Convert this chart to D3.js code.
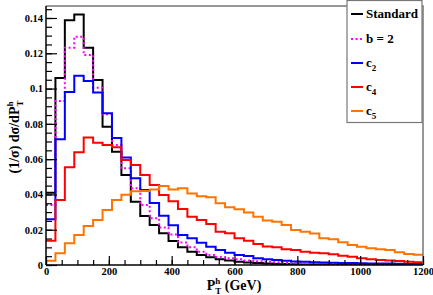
<!DOCTYPE html>
<html>
<head>
<meta charset="utf-8">
<script src="https://cdn.jsdelivr.net/npm/d3@7"></script>
<style>
  body { margin: 0; background: #fff; }
  svg text { font-family: "Liberation Serif", "Times New Roman", serif; font-weight: bold; fill: #000; }
</style>
</head>
<body>
<script>
// bin contents, 30 GeV bins from 0 to 1200 GeV
var binWidth = 30;
var standard = [0.041, 0.106, 0.1387, 0.142, 0.1232, 0.1049, 0.0784, 0.0642, 0.051, 0.0359,
  0.0278, 0.0227, 0.018, 0.0136, 0.010, 0.0075, 0.0057, 0.0044, 0.0032, 0.0025,
  0.0019, 0.0014, 0.0011, 0.0008, 0.0006, 0.0005, 0.0004, 0.0003, 0.0003, 0.0003,
  0.0002, 0.0002, 0.0002, 0.0001, 0.0001, 0.0001, 0.0001, 0.0001, 0.0001, 0.0001];
var b2 = [0.034, 0.093, 0.1232, 0.1294, 0.119, 0.1005, 0.0854, 0.068, 0.0548, 0.0435,
  0.034, 0.0265, 0.0212, 0.0173, 0.0128, 0.010, 0.0075, 0.0057, 0.0045, 0.0038,
  0.0032, 0.0026, 0.0021, 0.0018, 0.0015, 0.0012, 0.001, 0.0009, 0.0008, 0.0007,
  0.0006, 0.0006, 0.0005, 0.0005, 0.0004, 0.0004, 0.0003, 0.0003, 0.0003, 0.0002];
var c2 = [0.026, 0.0713, 0.098, 0.1072, 0.1043, 0.0978, 0.086, 0.072, 0.061, 0.0492,
  0.0425, 0.0352, 0.0279, 0.0225, 0.017, 0.0151, 0.0126, 0.0104, 0.0085, 0.007,
  0.0057, 0.0051, 0.0038, 0.0032, 0.0028, 0.0024, 0.002, 0.0018, 0.0016, 0.0014,
  0.0013, 0.0012, 0.0011, 0.001, 0.0009, 0.0008, 0.0008, 0.0007, 0.0006, 0.0006];
var c4 = [0.0138, 0.0368, 0.0554, 0.0639, 0.0722, 0.0693, 0.068, 0.0667, 0.0595, 0.0567,
  0.051, 0.0454, 0.0397, 0.0362, 0.0318, 0.0274, 0.0255, 0.0232, 0.0189, 0.018,
  0.0151, 0.0138, 0.0119, 0.0105, 0.010, 0.0089, 0.0085, 0.0075, 0.007, 0.0066,
  0.0061, 0.0052, 0.0047, 0.0038, 0.0032, 0.0028, 0.0025, 0.0022, 0.0019, 0.0015];
var c5 = [0.0024, 0.0066, 0.0123, 0.017, 0.0221, 0.0255, 0.0312, 0.0368, 0.0398, 0.0418,
  0.042, 0.0428, 0.0448, 0.0428, 0.0435, 0.0405, 0.039, 0.0384, 0.035, 0.0327,
  0.0316, 0.0297, 0.0274, 0.0252, 0.0245, 0.0227, 0.0198, 0.0188, 0.0178, 0.0151,
  0.0146, 0.0129, 0.0113, 0.0104, 0.0095, 0.0089, 0.0085, 0.0072, 0.0062, 0.0058];

var yMajor = [0, 0.02, 0.04, 0.06, 0.08, 0.1, 0.12, 0.14];
var xMajor = [0, 200, 400, 600, 800, 1000, 1200];

var series = [
  {label: "Standard", sub: null, values: standard, color: "#000000", dash: null},
  {label: "b = 2", sub: null, values: b2, color: "#ff00ff", dash: "2,2.5"},
  {label: "c", sub: "2", values: c2, color: "#0000ff", dash: null},
  {label: "c", sub: "4", values: c4, color: "#ff0000", dash: null},
  {label: "c", sub: "5", values: c5, color: "#ff7400", dash: null}
];

var W = 433, H = 295;
var plot = {left: 46, right: 423, top: 6, bottom: 265};

var svg = d3.select("body").append("svg")
    .attr("width", W)
    .attr("height", H);

var x = d3.scaleLinear().domain([0, 1200]).range([plot.left, plot.right]);
var y = d3.scaleLinear().domain([0, 0.1468]).range([plot.bottom, plot.top]);

svg.append("clipPath").attr("id", "clip")
  .append("rect")
    .attr("x", plot.left).attr("y", plot.top)
    .attr("width", plot.right - plot.left)
    .attr("height", plot.bottom - plot.top);

// histograms as steps
var line = d3.line()
    .x(function(d) { return x(d[0]); })
    .y(function(d) { return y(d[1]); })
    .curve(d3.curveStepAfter);

series.forEach(function(s) {
  var pts = s.values.map(function(v, i) { return [i * binWidth, v]; });
  pts.push([s.values.length * binWidth, s.values[s.values.length - 1]]);
  svg.append("path")
      .datum(pts)
      .attr("clip-path", "url(#clip)")
      .attr("fill", "none")
      .attr("stroke", s.color)
      .attr("stroke-width", 2)
      .attr("stroke-dasharray", s.dash)
      .attr("d", line);
});

// frame (top/right)
svg.append("path")
    .attr("d", "M" + plot.left + "," + plot.top + "H" + plot.right + "V" + plot.bottom)
    .attr("fill", "none")
    .attr("stroke", "#777")
    .attr("stroke-width", 1.5);

// y axis
var fmtY = function(d) { return String(+d.toFixed(2)); };
svg.append("g")
    .attr("transform", "translate(" + plot.left + ",0)")
    .call(d3.axisLeft(y).tickValues(d3.range(0, 0.1451, 0.005)).tickSize(-6).tickFormat(""))
    .call(function(g) { g.select(".domain").remove(); });
var yAx = svg.append("g")
    .attr("transform", "translate(" + plot.left + ",0)")
    .call(d3.axisLeft(y).tickValues(yMajor).tickSize(-11).tickPadding(3).tickFormat(fmtY));
yAx.select(".domain").attr("d", "M0," + plot.top + "V" + plot.bottom).attr("stroke-width", 1.5);
yAx.selectAll("text").style("font-size", "10.5px");

// x axis
svg.append("g")
    .attr("transform", "translate(0," + plot.bottom + ")")
    .call(d3.axisBottom(x).tickValues(d3.range(0, 1201, 50)).tickSize(-5).tickFormat(""))
    .call(function(g) { g.select(".domain").remove(); });
var xAx = svg.append("g")
    .attr("transform", "translate(0," + plot.bottom + ")")
    .call(d3.axisBottom(x).tickValues(xMajor).tickSize(-9).tickPadding(3).tickFormat(d3.format("d")));
xAx.select(".domain").attr("d", "M" + plot.left + ",0H" + plot.right).attr("stroke-width", 1.5);
xAx.selectAll("text").style("font-size", "10.5px");
svg.selectAll(".tick line").attr("stroke-width", 1.2);

// axis titles
var xt = svg.append("text")
    .attr("x", 234).attr("y", 290)
    .attr("text-anchor", "middle")
    .style("font-size", "14px");
xt.append("tspan").text("P");
xt.append("tspan").attr("dy", -6).style("font-size", "9px").text("h");
xt.append("tspan").attr("dx", -5).attr("dy", 10).style("font-size", "9px").text("T");
xt.append("tspan").attr("dy", -4).text(" (GeV)");

var yt = svg.append("text")
    .attr("transform", "translate(19,137) rotate(-90)")
    .attr("text-anchor", "middle")
    .style("font-size", "14px");
yt.append("tspan").text("(1/\u03c3) d\u03c3/dP");
yt.append("tspan").attr("dy", -6).style("font-size", "9px").text("h");
yt.append("tspan").attr("dx", -5).attr("dy", 10).style("font-size", "9px").text("T");

// legend
var leg = svg.append("g");
leg.append("rect")
    .attr("x", 347).attr("y", 0.5)
    .attr("width", 75).attr("height", 122)
    .attr("fill", "#fff")
    .attr("stroke", "#777")
    .attr("stroke-width", 1.2);
var rowY = [14, 39, 63, 87, 111];
series.forEach(function(s, i) {
  var yy = rowY[i];
  leg.append("line")
      .attr("x1", 351).attr("x2", 363)
      .attr("y1", yy).attr("y2", yy)
      .attr("stroke", s.color)
      .attr("stroke-width", 2)
      .attr("stroke-dasharray", s.dash);
  var t = leg.append("text")
      .attr("x", 366).attr("y", yy + 4)
      .style("font-size", "13px");
  t.append("tspan").text(s.label);
  if (s.sub) t.append("tspan").attr("dy", 4).style("font-size", "9px").text(s.sub);
});
</script>
</body>
</html>
